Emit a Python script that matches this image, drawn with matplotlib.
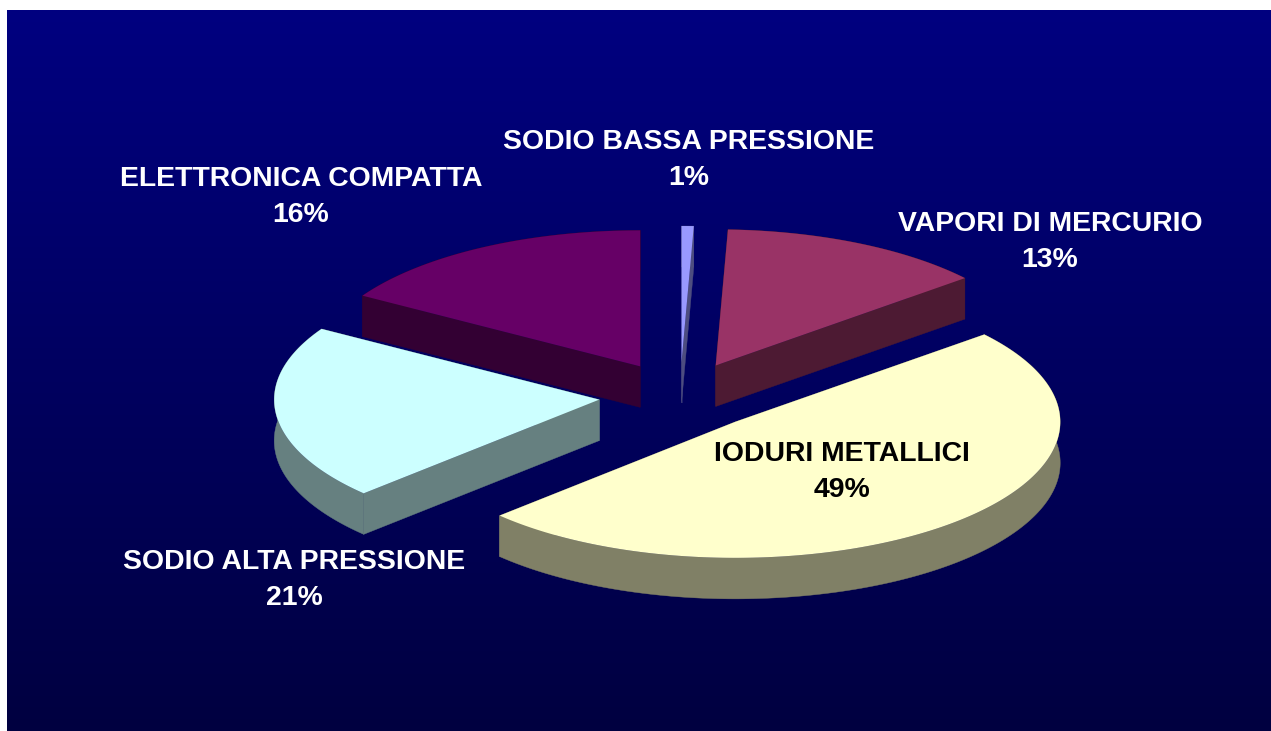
import numpy as np
import matplotlib
matplotlib.use('Agg')
import matplotlib.pyplot as plt
from matplotlib.colors import LinearSegmentedColormap

plt.rcParams['font.family'] = ['Liberation Sans', 'DejaVu Sans']

# clockwise from 12 o'clock
labels = ['SODIO BASSA PRESSIONE', 'VAPORI DI MERCURIO', 'IODURI METALLICI',
          'SODIO ALTA PRESSIONE', 'ELETTRONICA COMPATTA']
values = [0.6, 13.3, 49.0, 20.8, 16.3]
explode = [0.25, 0.25, 0.255, 0.25, 0.25]
colors = ['#9999FF', '#993366', '#FFFFCC', '#CCFFFF', '#660066']
side_colors = ['#4D4D80', '#4D1A33', '#808066', '#668080', '#330033']
text_colors = ['white', 'white', 'black', 'white', 'white']
label_pos = [(689, 160), (1050, 242), (842, 472), (294, 580), (301, 197)]

# pie geometry in pixels
cx, cy = 680, 396
rx, ry = 325, 136
depth = 41

fig = plt.figure(figsize=(12.71, 7.31), dpi=100)
ax = fig.add_axes([0, 0, 1, 1])
ax.axis('off')

# background gradient
cmap = LinearSegmentedColormap.from_list('bg', ['#000080', '#000040'])
grad = np.linspace(0, 1, 256).reshape(-1, 1)
ax.imshow(grad, cmap=cmap, extent=[7, 1271, 731, 10], aspect='auto', zorder=0)
ax.set_xlim(0, 1271)
ax.set_ylim(731, 0)


def draw_slice(a0, a1, ex, col, side, z):
    mid = (a0 + a1) / 2
    x0 = cx + ex * rx * np.sin(mid)
    y0 = cy - ex * ry * np.cos(mid)
    t = np.linspace(a0, a1, 200)
    ax_, ay_ = x0 + rx * np.sin(t), y0 - ry * np.cos(t)
    # the two cut faces and the outer band
    for px, py in [(ax_[0], ay_[0]), (ax_[-1], ay_[-1])]:
        ax.fill([x0, px, px, x0], [y0, py, py + depth, y0 + depth],
                color=side, lw=0.3, zorder=z)
    ax.fill(np.r_[ax_, ax_[::-1]], np.r_[ay_, ay_[::-1] + depth],
            color=side, lw=0.3, zorder=z)
    ax.fill(np.r_[x0, ax_], np.r_[y0, ay_], color=col, lw=0, zorder=z + 0.5)


angles = np.r_[0, np.cumsum(values)] / sum(values) * 2 * np.pi
# back slices first, the big front one last
order = [0, 1, 4, 3, 2]
for n, i in enumerate(order):
    draw_slice(angles[i], angles[i + 1], explode[i], colors[i], side_colors[i], 1 + n)

for i in range(len(labels)):
    ax.text(label_pos[i][0], label_pos[i][1], f'{labels[i]}\n{values[i]:.0f}%',
            color=text_colors[i], fontsize=20.45, fontweight='bold',
            ha='center', va='center', linespacing=1.53, zorder=10)

fig.savefig('out.png', dpi=100, facecolor='white')
